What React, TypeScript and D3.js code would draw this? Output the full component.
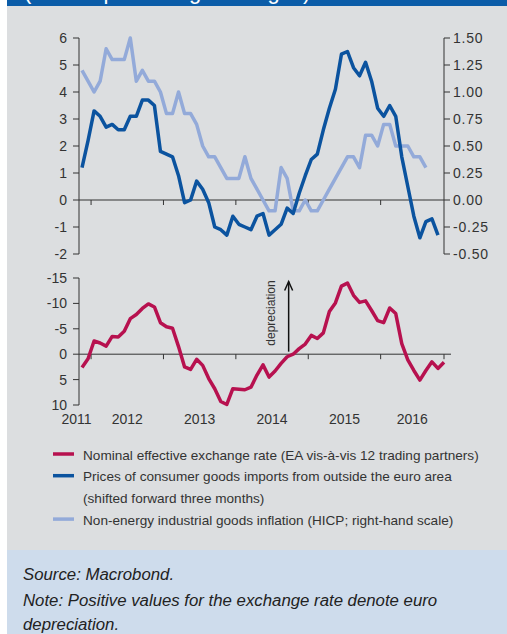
import * as d3 from "d3";

// monthly data, first point = Nov 2011
const years = ["2011", "2012", "2013", "2014", "2015", "2016"];
const neer = [2.6, 0.9, -2.6, -2.2, -1.6, -3.5, -3.4, -4.5, -7.0, -7.8, -9.0, -9.9, -9.3, -6.2, -5.4, -5.1, -1.5, 2.5, 3.0, 1.0, 2.2, 4.8, 6.8, 9.3, 9.9, 6.8, 6.9, 7.0, 6.5, 4.1, 2.1, 4.5, 3.3, 1.8, 0.5, 0.0, -1.1, -2.0, -3.7, -3.1, -4.2, -8.4, -10.1, -13.4, -14.0, -11.6, -10.2, -10.5, -8.6, -6.6, -6.2, -9.1, -8.0, -2.1, 1.1, 3.2, 5.1, 3.2, 1.5, 2.8, 1.6];
const importPrices = [1.2, 2.2, 3.3, 3.1, 2.7, 2.8, 2.6, 2.6, 3.1, 3.1, 3.7, 3.7, 3.5, 1.8, 1.7, 1.6, 0.9, -0.1, 0.0, 0.7, 0.4, -0.1, -1.0, -1.1, -1.3, -0.6, -0.9, -1.0, -1.1, -0.6, -0.5, -1.3, -1.1, -0.9, -0.3, -0.5, 0.25, 0.9, 1.5, 1.7, 2.6, 3.4, 4.1, 5.4, 5.5, 4.9, 4.6, 5.1, 4.4, 3.4, 3.1, 3.5, 3.1, 1.6, 0.5, -0.6, -1.4, -0.8, -0.7, -1.3];
const neig = [1.2, 1.1, 1.0, 1.1, 1.4, 1.3, 1.3, 1.3, 1.5, 1.1, 1.2, 1.1, 1.1, 1.0, 0.8, 0.8, 1.0, 0.8, 0.8, 0.7, 0.5, 0.4, 0.4, 0.3, 0.2, 0.2, 0.2, 0.4, 0.2, 0.1, 0.0, -0.1, -0.1, 0.3, 0.2, -0.1, -0.1, 0.0, -0.1, -0.1, 0.0, 0.1, 0.2, 0.3, 0.4, 0.4, 0.3, 0.6, 0.6, 0.5, 0.7, 0.7, 0.5, 0.5, 0.5, 0.4, 0.4, 0.3];

const leftTicks = [-2, -1, 0, 1, 2, 3, 4, 5, 6];
const rightTicks = [-0.5, -0.25, 0, 0.25, 0.5, 0.75, 1, 1.25, 1.5];
const bottomTicks = [-15, -10, -5, 0, 5, 10];

const legendLabels = [
  "Nominal effective exchange rate (EA vis-à-vis 12 trading partners)",
  "Prices of consumer goods imports from outside the euro area",
  "(shifted forward three months)",
  "Non-energy industrial goods inflation (HICP; right-hand scale)",
];

const RED = "#b7114f";
const DARK = "#0b539f";
const LIGHT = "#93aad9";
const AXIS = "#333";
const font = "'Liberation Sans', Arial, sans-serif";

export default function App() {
  const x = d3.scaleLinear().domain([-0.5, 60]).range([79, 444]);
  const yL = d3.scaleLinear().domain([-2, 6]).range([254, 38]);
  const yR = d3.scaleLinear().domain([-0.5, 1.5]).range([254, 38]);
  const yB = d3.scaleLinear().domain([-15, 10]).range([278, 405]);

  const [x0, x1] = x.range();
  const yearStart = (yr: number) => (yr - 2011) * 12 - 10 - 0.5;
  const yearTicks = years.slice(1).map((y) => yearStart(+y));

  const lineL = d3.line<number>().x((_, i) => x(i)).y((d) => yL(d));
  const lineR = d3.line<number>().x((_, i) => x(i)).y((d) => yR(d));
  const lineB = d3.line<number>().x((_, i) => x(i)).y((d) => yB(d));

  const yearLabels = years.map((y) => {
    const lo = Math.max(yearStart(+y), -0.5);
    const hi = Math.min(yearStart(+y + 1), 60);
    const w = x(hi) - x(lo);
    return w < 30
      ? { y, px: x(hi) + 0.5, anchor: "end" }
      : { y, px: (x(lo) + x(hi)) / 2, anchor: "middle" };
  });

  const arrowX = x(34.25);
  const arrowTop = yB(-14.3);
  const arrowBottom = yB(-0.5);

  return (
    <svg
      width={507}
      height={634}
      style={{ position: "absolute", left: 0, top: 0, fontFamily: font }}
    >
      <rect x={0} y={0} width={507} height={634} fill="#fff" />
      <rect x={7} y={0} width={500} height={6} fill="#0b5ca8" />
      <text x={24} y={-1.5} fontSize={22} fill="#fff">
        (annual percentage changes)
      </text>
      <rect x={7} y={6} width={500} height={544} fill="#dcdee0" />
      <rect x={7} y={550} width={500} height={84} fill="#cedcec" />

      {/* top chart axes */}
      <line x1={x0} x2={x0} y1={yL(6)} y2={yL(-2)} stroke={AXIS} />
      {leftTicks.map((t) => (
        <g key={"l" + t}>
          <line x1={x0 - 6} x2={x0} y1={yL(t)} y2={yL(t)} stroke={AXIS} />
          <text x={x0 - 12} y={yL(t)} dy="0.35em" textAnchor="end" fontSize={14} fill={AXIS}>
            {String(t)}
          </text>
        </g>
      ))}
      <line x1={x1} x2={x1} y1={yR(1.5)} y2={yR(-0.5)} stroke={AXIS} />
      {rightTicks.map((t) => (
        <g key={"r" + t}>
          <line x1={x1} x2={x1 + 6} y1={yR(t)} y2={yR(t)} stroke={AXIS} />
          <text x={x1 + 9} y={yR(t)} dy="0.35em" fontSize={14} letterSpacing={0.8} fill={AXIS}>
            {t.toFixed(2)}
          </text>
        </g>
      ))}
      <line x1={x0} x2={x1} y1={yL(0)} y2={yL(0)} stroke={AXIS} />
      {yearTicks.map((t) => (
        <line key={"tt" + t} x1={x(t)} x2={x(t)} y1={yL(0)} y2={yL(0) + 5} stroke={AXIS} />
      ))}

      <path d={lineR(neig) ?? ""} fill="none" stroke={LIGHT} strokeWidth={3.5} strokeLinejoin="round" />
      <path d={lineL(importPrices) ?? ""} fill="none" stroke={DARK} strokeWidth={3.5} strokeLinejoin="round" />

      {/* bottom chart */}
      <line x1={x0} x2={x0} y1={yB(-15)} y2={yB(10)} stroke={AXIS} />
      {bottomTicks.map((t) => (
        <g key={"b" + t}>
          <line x1={x0 - 6} x2={x0} y1={yB(t)} y2={yB(t)} stroke={AXIS} />
          <text x={x0 - 12} y={yB(t)} dy="0.35em" textAnchor="end" fontSize={14} fill={AXIS}>
            {String(t)}
          </text>
        </g>
      ))}
      <line x1={x0} x2={x1 + 7} y1={yB(0)} y2={yB(0)} stroke={AXIS} />
      {[...yearTicks, 60].map((t) => (
        <line key={"bt" + t} x1={x(t)} x2={x(t)} y1={yB(0)} y2={yB(0) + 5} stroke={AXIS} />
      ))}
      <path d={lineB(neer) ?? ""} fill="none" stroke={RED} strokeWidth={3.5} strokeLinejoin="round" />

      {yearLabels.map((l) => (
        <text key={l.y} x={l.px} y={424} textAnchor={l.anchor} fontSize={14} fill={AXIS}>
          {l.y}
        </text>
      ))}

      {/* depreciation arrow */}
      <line x1={arrowX} x2={arrowX} y1={arrowBottom} y2={arrowTop} stroke="#111" strokeWidth={1.5} />
      <path
        d={`M${arrowX - 4},${arrowTop + 9} L${arrowX},${arrowTop} L${arrowX + 4},${arrowTop + 9}`}
        fill="none"
        stroke="#111"
        strokeWidth={1.5}
      />
      <text
        transform={`translate(${arrowX - 13.5},${arrowBottom - 6}) rotate(-90)`}
        fontSize={12}
        fill={AXIS}
      >
        depreciation
      </text>

      {/* legend */}
      {[RED, DARK, null, LIGHT].map((c, i) =>
        c ? (
          <line key={"sw" + i} x1={53} x2={74} y1={454 + i * 21.7} y2={454 + i * 21.7} stroke={c} strokeWidth={3.5} />
        ) : null
      )}
      {legendLabels.map((s, i) => (
        <text key={s} x={83} y={459.5 + i * 21.7} fontSize={13.6} fill={AXIS}>
          {s}
        </text>
      ))}

      {/* footer */}
      <text x={23} y={580} fontSize={16.8} fontStyle="italic" fill="#222">
        Source: Macrobond.
      </text>
      <text x={23} y={605.5} fontSize={16.8} fontStyle="italic" fill="#222">
        Note: Positive values for the exchange rate denote euro
      </text>
      <text x={23} y={630} fontSize={16.8} fontStyle="italic" fill="#222">
        depreciation.
      </text>
    </svg>
  );
}
